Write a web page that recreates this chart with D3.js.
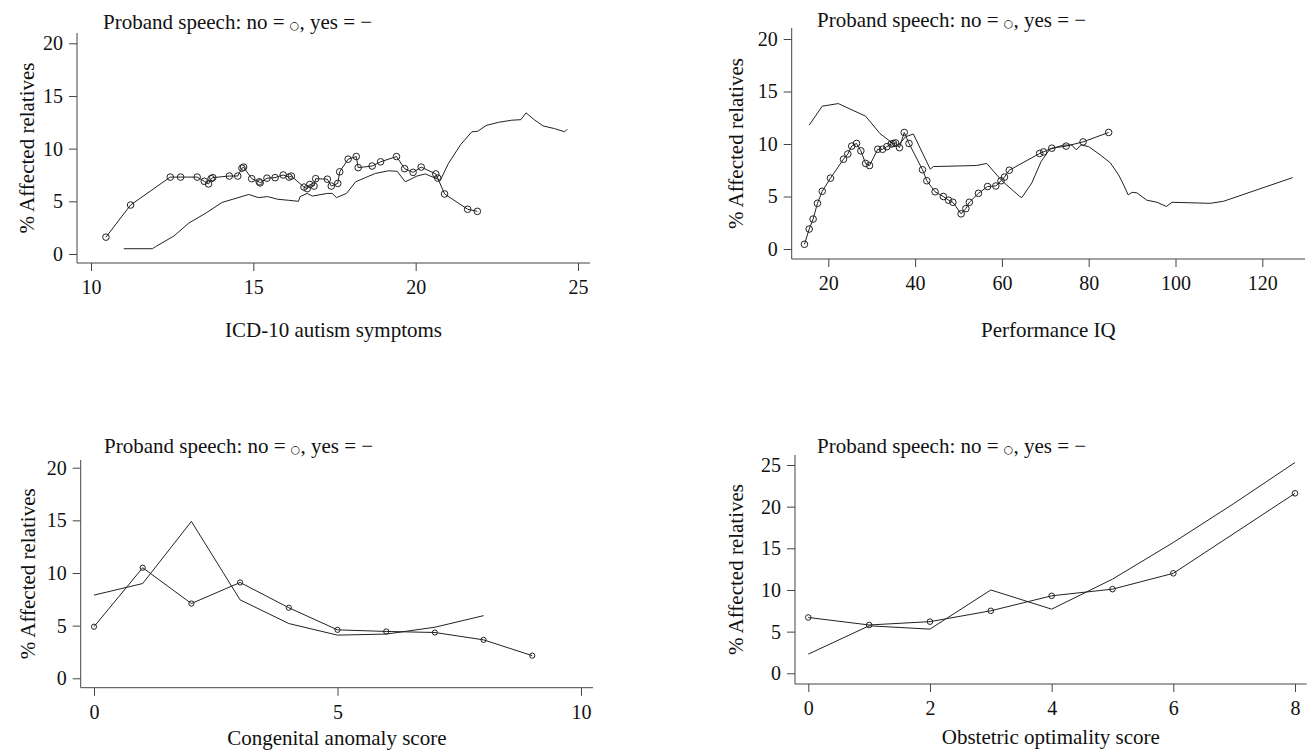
<!DOCTYPE html>
<html>
<head>
<meta charset="utf-8">
<script src="https://cdn.jsdelivr.net/npm/d3@7"></script>
<style>
  body { margin: 0; background: #fff; }
</style>
</head>
<body>
<svg id="chart" width="1312" height="752"></svg>
<script>
// ICD-10 autism symptoms, proband speech no (circles) / yes (line)
const icdNoX = [10.46, 11.22, 12.44, 12.76, 13.27, 13.49, 13.62, 13.70, 13.75, 14.26, 14.52, 14.65, 14.70, 14.95,
  15.18, 15.21, 15.42, 15.67, 15.92, 16.10, 16.17, 16.56, 16.66, 16.74, 16.87, 16.92, 17.28, 17.40, 17.60, 17.66,
  17.92, 18.17, 18.23, 18.66, 18.92, 19.41, 19.66, 19.92, 20.17, 20.62, 20.68, 20.89, 21.60, 21.90];
const icdNoY = [1.6, 4.65, 7.3, 7.3, 7.3, 6.9, 6.65, 7.15, 7.25, 7.4, 7.4, 8.15, 8.25, 7.15,
  6.85, 6.75, 7.2, 7.25, 7.5, 7.3, 7.4, 6.35, 6.2, 6.6, 6.45, 7.15, 7.1, 6.45, 6.7, 7.8,
  9.0, 9.25, 8.2, 8.35, 8.75, 9.25, 8.1, 7.75, 8.25, 7.6, 7.2, 5.7, 4.25, 4.05];
const icdYesX = [11.01, 11.89, 11.99, 12.55, 13.02, 13.52, 14.04, 14.37, 14.86, 15.16, 15.44, 15.74, 16.08, 16.39,
  16.44, 16.66, 16.82, 17.28, 17.43, 17.56, 17.87, 18.15, 18.45, 18.76, 19.17, 19.43, 19.68, 20.04, 20.30, 20.45,
  20.76, 21.01, 21.39, 21.73, 21.91, 22.17, 22.55, 22.96, 23.24, 23.40, 23.65, 23.93, 24.28, 24.59, 24.67];
const icdYesY = [0.5, 0.5, 0.7, 1.7, 2.95, 3.85, 4.9, 5.2, 5.65, 5.35, 5.45, 5.2, 5.1, 5.0,
  5.45, 5.75, 5.5, 5.75, 5.75, 5.35, 5.75, 6.85, 7.25, 7.65, 7.9, 7.85, 6.85, 7.4, 7.6, 7.4,
  7.0, 8.6, 10.4, 11.6, 11.65, 12.2, 12.5, 12.7, 12.75, 13.4, 12.75, 12.15, 11.9, 11.6, 11.85];

// Performance IQ
const piqNoX = [14.5, 15.6, 16.5, 17.5, 18.6, 20.5, 23.5, 24.5, 25.4, 26.5, 27.5, 28.6, 29.5, 31.4, 32.5, 33.5,
  34.5, 35.0, 35.5, 36.4, 37.5, 38.6, 41.7, 42.7, 44.6, 46.5, 47.7, 48.7, 50.6, 51.7, 52.5, 54.6, 56.7, 58.6,
  59.8, 60.6, 61.7, 68.7, 69.6, 71.5, 74.8, 78.7, 84.6];
const piqNoY = [0.45, 1.9, 2.85, 4.35, 5.5, 6.75, 8.55, 9.05, 9.8, 10.05, 9.35, 8.15, 7.95, 9.5, 9.5, 9.75,
  10.0, 10.05, 10.1, 9.65, 11.1, 10.05, 7.55, 6.5, 5.45, 5.0, 4.65, 4.45, 3.35, 3.85, 4.45, 5.3, 5.95, 6.0,
  6.5, 6.85, 7.5, 9.1, 9.25, 9.6, 9.8, 10.2, 11.1];
const piqYesX = [15.6, 18.6, 22.3, 28.6, 31.9, 35.8, 37.85, 39.6, 43.5, 44.2, 54.1, 56.5, 60.0, 64.1, 64.6, 66.9,
  69.0, 71.0, 74.2, 76.1, 77.1, 78.3, 80.0, 82.7, 85.0, 86.9, 88.05, 89.1, 90.0, 91.1, 93.4, 95.75, 97.9, 99.2,
  108.0, 111.1, 127.0];
const piqYesY = [11.8, 13.6, 13.85, 12.65, 11.0, 9.75, 10.7, 10.95, 7.6, 7.85, 7.95, 8.15, 6.5, 5.0, 4.9, 6.3,
  8.3, 9.5, 9.9, 9.9, 9.45, 9.9, 9.75, 8.95, 8.2, 7.05, 6.1, 5.15, 5.4, 5.35, 4.65, 4.45, 4.05, 4.45,
  4.35, 4.55, 6.8];

// Congenital anomaly score
const anomalyScore = [0, 1, 2, 3, 4, 5, 6, 7, 8, 9];
const anomalyNo = [4.9, 10.5, 7.1, 9.1, 6.7, 4.6, 4.45, 4.35, 3.65, 2.15];
const anomalyYes = [7.9, 9.0, 14.9, 7.45, 5.2, 4.1, 4.2, 4.85, 5.95];

// Obstetric optimality score
const obstetricNoScore = [0, 1, 2, 3, 4, 5, 6, 8];
const obstetricNo = [6.7, 5.8, 6.2, 7.5, 9.3, 10.1, 12.0, 21.6];
const obstetricYesScore = [0, 1, 2, 3, 4, 5, 6, 7, 8];
const obstetricYes = [2.3, 5.7, 5.3, 10.0, 7.7, 11.3, 15.7, 20.4, 25.3];

const titleText = ["Proband speech: no = ", "\u25CB", ", yes = \u2212"];
const yTitle = "% Affected relatives";
const serif = "Liberation Serif, Times New Roman, DejaVu Serif, serif";

const panels = [
  { left: 77, right: 590, top: 33, bottom: 263,
    xDom: [10, 25], xPx: [91, 578], yDom: [0, 20], yPx: [254, 43.3],
    xTicks: [10, 15, 20, 25], yTicks: [0, 5, 10, 15, 20],
    xLabel: "ICD-10 autism symptoms", xLabelY: 337, yLabelX: 34, titleX: 103, titleY: 29, r: 3.3,
    no: [icdNoX, icdNoY], yes: [icdYesX, icdYesY] },
  { left: 791.7, right: 1305, top: 28, bottom: 259,
    xDom: [20, 120], xPx: [828.3, 1262.3], yDom: [0, 20], yPx: [249, 39],
    xTicks: [20, 40, 60, 80, 100, 120], yTicks: [0, 5, 10, 15, 20],
    xLabel: "Performance IQ", xLabelY: 337, yLabelX: 743, titleX: 817, titleY: 27, r: 3.3,
    no: [piqNoX, piqNoY], yes: [piqYesX, piqYesY] },
  { left: 80.7, right: 593, top: 460, bottom: 687.7,
    xDom: [0, 10], xPx: [94, 581], yDom: [0, 20], yPx: [678.3, 467.7],
    xTicks: [0, 5, 10], yTicks: [0, 5, 10, 15, 20],
    xLabel: "Congenital anomaly score", xLabelY: 745, yLabelX: 35, titleX: 104, titleY: 453, r: 2.6,
    no: [anomalyScore, anomalyNo], yes: [anomalyScore.slice(0, anomalyYes.length), anomalyYes] },
  { left: 795, right: 1306.7, top: 455, bottom: 684,
    xDom: [0, 8], xPx: [808.3, 1295], yDom: [0, 25], yPx: [673.3, 465],
    xTicks: [0, 2, 4, 6, 8], yTicks: [0, 5, 10, 15, 20, 25],
    xLabel: "Obstetric optimality score", xLabelY: 744, yLabelX: 743, titleX: 817, titleY: 453, r: 2.8,
    no: [obstetricNoScore, obstetricNo], yes: [obstetricYesScore, obstetricYes] }
];

const svg = d3.select("#chart");

panels.forEach(p => {
  const x = d3.scaleLinear().domain(p.xDom).range(p.xPx);
  const y = d3.scaleLinear().domain(p.yDom).range(p.yPx);
  const g = svg.append("g");

  // axis lines (plot region edges)
  g.append("line").attr("x1", p.left).attr("x2", p.right).attr("y1", p.bottom).attr("y2", p.bottom)
    .attr("stroke", "#444").attr("stroke-width", 1);
  g.append("line").attr("x1", p.left).attr("x2", p.left).attr("y1", p.top).attr("y2", p.bottom)
    .attr("stroke", "#444").attr("stroke-width", 1);

  const xAxis = d3.axisBottom(x).tickValues(p.xTicks).tickSize(8).tickSizeOuter(0).tickPadding(9).tickFormat(d3.format("d"));
  const yAxis = d3.axisLeft(y).tickValues(p.yTicks).tickSize(8).tickSizeOuter(0).tickPadding(6).tickFormat(d3.format("d"));

  const gx = g.append("g").attr("transform", "translate(0," + p.bottom + ")").call(xAxis);
  const gy = g.append("g").attr("transform", "translate(" + p.left + ",0)").call(yAxis);
  [gx, gy].forEach(a => {
    a.attr("font-family", serif).attr("font-size", 20);
    a.select(".domain").remove();
    a.selectAll(".tick line").attr("stroke", "#444");
    a.selectAll(".tick text").attr("fill", "#111");
  });

  // titles
  const t = g.append("text").attr("x", p.titleX).attr("y", p.titleY)
    .attr("font-family", serif).attr("font-size", 21).attr("fill", "#111");
  t.append("tspan").text(titleText[0]);
  t.append("tspan").attr("font-size", 11).attr("font-family", "DejaVu Sans").text(titleText[1]);
  t.append("tspan").text(titleText[2]);

  g.append("text")
    .attr("x", (p.left + p.right) / 2).attr("y", p.xLabelY)
    .attr("text-anchor", "middle").attr("font-family", serif).attr("font-size", 21).attr("fill", "#111")
    .text(p.xLabel);

  g.append("text")
    .attr("transform", "translate(" + p.yLabelX + "," + ((p.top + p.bottom) / 2) + ") rotate(-90)")
    .attr("text-anchor", "middle").attr("font-family", serif).attr("font-size", 21).attr("fill", "#111")
    .text(yTitle);

  // speech yes: plain line
  const yesPts = p.yes[0].map((d, i) => [d, p.yes[1][i]]);
  const noPts = p.no[0].map((d, i) => [d, p.no[1][i]]);
  const line = d3.line().x(d => x(d[0])).y(d => y(d[1]));

  g.append("path").datum(yesPts).attr("d", line)
    .attr("fill", "none").attr("stroke", "#222").attr("stroke-width", 1);

  // speech no: line with circles
  g.append("path").datum(noPts).attr("d", line)
    .attr("fill", "none").attr("stroke", "#222").attr("stroke-width", 1);
  g.selectAll("circle.no").data(noPts).enter().append("circle")
    .attr("class", "no")
    .attr("cx", d => x(d[0])).attr("cy", d => y(d[1])).attr("r", p.r)
    .attr("fill", "none").attr("stroke", "#222").attr("stroke-width", 1);
});
</script>
</body>
</html>
